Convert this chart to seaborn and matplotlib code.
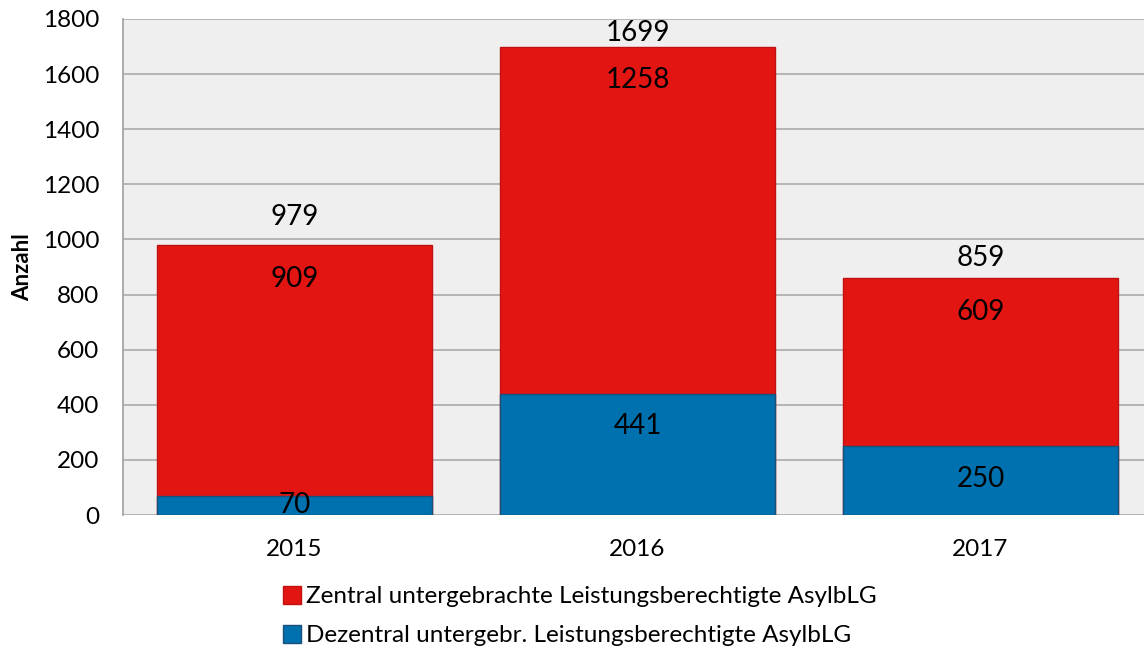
import numpy as np
import pandas as pd
import seaborn as sns
import matplotlib.pyplot as plt
from matplotlib.patches import Patch

# Daten
jahre = ["2015", "2016", "2017"]
zentral = [909, 1258, 609]
dezentral = [70, 441, 250]
gesamt = [979, 1699, 859]

label_zentral = "Zentral untergebrachte Leistungsberechtigte AsylbLG"
label_dezentral = "Dezentral untergebr. Leistungsberechtigte AsylbLG"

rot = "#E31513"
blau = "#0071AF"

sns.set_theme(style="white")
plt.rcParams['font.family'] = ['Lato', 'DejaVu Sans']
plt.rcParams['text.color'] = 'black'
plt.rcParams['xtick.color'] = 'black'
plt.rcParams['ytick.color'] = 'black'
plt.rcParams['axes.labelcolor'] = 'black'

df = pd.DataFrame({"Jahr": jahre, "Zentral": zentral,
                   "Dezentral": dezentral, "Gesamt": gesamt})

fig = plt.figure(figsize=(11.44, 6.52), dpi=100)
ax = fig.add_axes([0.1075, 0.21, 0.8995, 0.761])
ax.set_facecolor("#EFEFEF")

# gestapelt: zuerst Gesamt (rot), darüber Dezentral (blau)
sns.barplot(data=df, x="Jahr", y="Gesamt", color=rot, width=0.80,
            edgecolor="#C01010", linewidth=1, saturation=1, ax=ax, zorder=3)
sns.barplot(data=df, x="Jahr", y="Dezentral", color=blau, width=0.80,
            edgecolor="#1A4F7A", linewidth=1, saturation=1, ax=ax, zorder=3)

ax.set_ylim(0, 1800)
ax.set_xlim(-0.5, 2.5)
ax.set_yticks(np.arange(0, 1801, 200))
ax.yaxis.grid(True, color="#B0B0B0", linewidth=1.3, zorder=0)
ax.set_axisbelow(True)
for s in ["top", "right", "bottom"]:
    ax.spines[s].set_visible(False)
ax.spines["left"].set_color("#A6A6A6")
ax.spines["left"].set_linewidth(1.3)
ax.tick_params(axis="both", labelsize=17.5, length=0)
ax.tick_params(axis="y", pad=17)
ax.tick_params(axis="x", pad=17)
ax.set_xlabel("")
ax.set_ylabel("Anzahl", fontsize=16, fontweight="bold", labelpad=7)

# Beschriftungen
summe_abstand = [102, 51, 73]
for i in range(len(jahre)):
    ax.text(i, gesamt[i] + summe_abstand[i], str(gesamt[i]),
            ha="center", va="center", fontsize=20)
    ax.text(i, gesamt[i] - 122, str(zentral[i]), ha="center", va="center", fontsize=20)
    ax.text(i, dezentral[i] - min(118, dezentral[i] / 2), str(dezentral[i]),
            ha="center", va="center", fontsize=20)

handles = [Patch(facecolor=rot, edgecolor="#C01010", label=label_zentral),
           Patch(facecolor=blau, edgecolor="#1A4F7A", label=label_dezentral)]
fig.legend(handles=handles, loc="upper left", bbox_to_anchor=(0.239, 0.116),
           frameon=False, fontsize=17.5, handlelength=0.75, handleheight=0.75,
           handletextpad=0.2, labelspacing=0.72, borderaxespad=0)
plt.savefig("out.png", dpi=100)
